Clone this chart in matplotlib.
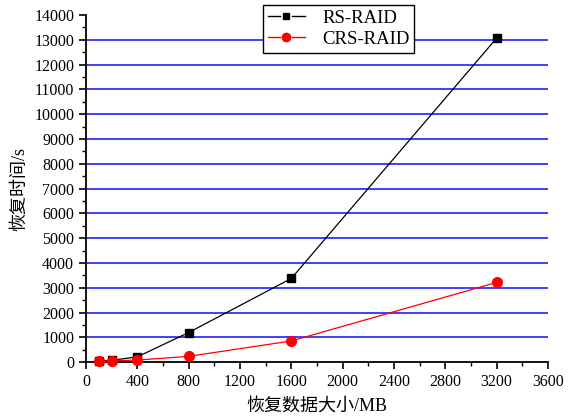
import matplotlib
matplotlib.use("Agg")
import matplotlib.pyplot as plt
import numpy as np
from matplotlib.ticker import MultipleLocator
from matplotlib.lines import Line2D
from matplotlib.legend_handler import HandlerBase

sizes_mb = [100, 200, 400, 800, 1600, 3200]
rs_raid = [50, 80, 220, 1200, 3380, 13070]
crs_raid = [40, 60, 90, 240, 860, 3220]
series_names = ["RS-RAID", "CRS-RAID"]
x_ticks = [0, 400, 800, 1200, 1600, 2000, 2400, 2800, 3200, 3600]
y_ticks = list(range(0, 14001, 1000))

serif = ["Liberation Serif", "Noto Sans CJK SC"]

fig = plt.figure(figsize=(5.74, 4.19), dpi=100)
ax = fig.add_axes([86 / 574, 1 - 362.3 / 419, (548 - 86) / 574, (362.3 - 15) / 419])
ax.set_xlim(0, 3600)
ax.set_ylim(0, 14000)

# grid lines
for yv in y_ticks[1:-1]:
    ax.axhline(yv, color="#3030ff", lw=1.3, zorder=1)

fig.canvas.draw()

def gapped_line(xs, ys, color, gap=5):
    pts = ax.transData.transform(np.column_stack([xs, ys]))
    inv = ax.transData.inverted()
    for p0, p1 in zip(pts[:-1], pts[1:]):
        d = p1 - p0
        L = np.hypot(*d)
        if L <= 2 * gap:
            continue
        u = d / L
        a = inv.transform(p0 + u * gap)
        b = inv.transform(p1 - u * gap)
        ax.plot([a[0], b[0]], [a[1], b[1]], color=color, lw=0.9, zorder=3, clip_on=False)

gapped_line(sizes_mb, rs_raid, "black")
gapped_line(sizes_mb, crs_raid, "red")
ax.plot(sizes_mb, rs_raid, ls="none", marker="s", ms=5.5, color="black", zorder=4, clip_on=False)
ax.plot(sizes_mb, crs_raid, ls="none", marker="o", ms=7, color="red", zorder=4, clip_on=False)

for s in ["top", "right"]:
    ax.spines[s].set_visible(False)
for s in ["left", "bottom"]:
    ax.spines[s].set_linewidth(1.3)

ax.set_xticks(x_ticks)
ax.set_yticks(y_ticks)
ax.xaxis.set_minor_locator(MultipleLocator(200))
ax.yaxis.set_minor_locator(MultipleLocator(500))
ax.tick_params(which="major", direction="out", length=5, width=1.2, labelsize=11.5)
ax.tick_params(which="minor", direction="out", length=3, width=1.0)
for lab in ax.get_xticklabels() + ax.get_yticklabels():
    lab.set_fontfamily(serif)

ax.set_xlabel("恢复数据大小/MB", fontsize=13, family=serif, labelpad=6)
ax.set_ylabel("恢复时间/s", fontsize=13, family=serif, labelpad=4)


class GapHandler(HandlerBase):
    def __init__(self, color, marker, ms):
        super().__init__()
        self.color, self.marker, self.ms = color, marker, ms

    def create_artists(self, legend, orig_handle, xdescent, ydescent, width, height, fontsize, trans):
        y = height / 2 - ydescent
        g = width * 0.16
        l1 = Line2D([-xdescent, -xdescent + width / 2 - g], [y, y], color=self.color, lw=1.0, transform=trans)
        l2 = Line2D([-xdescent + width / 2 + g, -xdescent + width], [y, y], color=self.color, lw=1.0, transform=trans)
        m = Line2D([-xdescent + width / 2], [y], ls="none", marker=self.marker, ms=self.ms, color=self.color, transform=trans)
        return [l1, l2, m]


h1 = Line2D([], [], color="black")
h2 = Line2D([], [], color="red")
leg = ax.legend([h1, h2], series_names,
                handler_map={h1: GapHandler("black", "s", 5), h2: GapHandler("red", "o", 6)},
                loc="upper left", bbox_to_anchor=(263 / 574, 1 - 5 / 419), bbox_transform=fig.transFigure,
                frameon=True, fancybox=False, edgecolor="black", framealpha=1,
                prop={"family": serif, "size": 13.5}, handlelength=2.0, handletextpad=0.9,
                borderpad=0.25, labelspacing=0.22, borderaxespad=0)
leg.get_frame().set_linewidth(1.0)
leg.set_zorder(5)

fig.savefig("out.png", dpi=100)
